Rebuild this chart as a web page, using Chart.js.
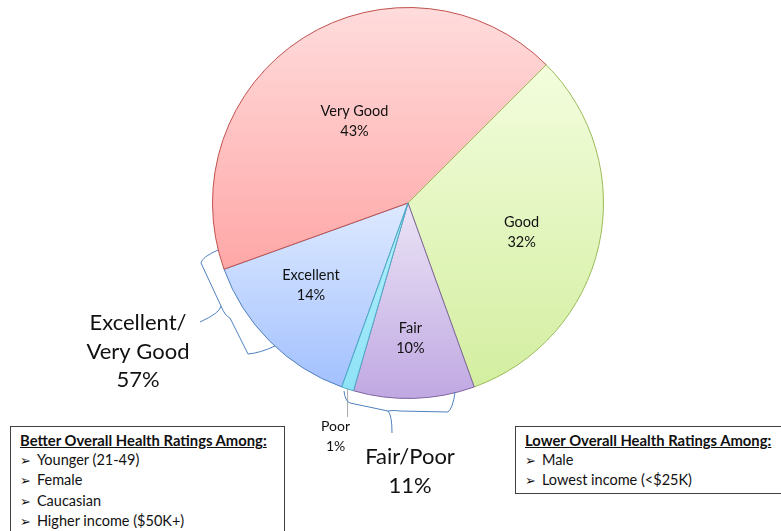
<!DOCTYPE html>
<html>
<head>
<meta charset="utf-8">
<script src="https://cdn.jsdelivr.net/npm/chart.js@4.4.1/dist/chart.umd.min.js"></script>
<style>
  html, body { margin: 0; padding: 0; background: #fff; overflow: hidden; }
  #wrap { position: relative; width: 781px; height: 531px; }
  canvas { position: absolute; left: 0; top: 0; }
  .box {
    position: absolute; border: 1px solid #404040; background: #fff;
    font-family: "Lato", "Open Sans", sans-serif; font-size: 14.5px; color: #111;
    padding: 4px 0 0 9px; box-sizing: border-box; line-height: 19.2px;
  }
  .box b { text-decoration: underline; display: block; font-size: 14.8px; }
  .arr { font-family: "DejaVu Sans", sans-serif; font-size: 13px; margin-right: 6px; }
</style>
</head>
<body>
<div id="wrap">
  <canvas id="healthPie" width="781" height="531"></canvas>
  <div class="box" style="left:10px; top:426px; width:275px; height:120px;">
    <b>Better Overall Health Ratings Among:</b>
    <div><span class="arr">&#10146;</span>Younger (21-49)</div>
    <div><span class="arr">&#10146;</span>Female</div>
    <div><span class="arr">&#10146;</span>Caucasian</div>
    <div><span class="arr">&#10146;</span>Higher income ($50K+)</div>
  </div>
  <div class="box" style="left:515px; top:426px; width:280px; height:68px;">
    <b>Lower Overall Health Ratings Among:</b>
    <div><span class="arr">&#10146;</span>Male</div>
    <div><span class="arr">&#10146;</span>Lowest income (&lt;$25K)</div>
  </div>
</div>
<script>
const categories = ["Excellent", "Very Good", "Good", "Fair", "Poor"];
const shares = [14, 43, 32, 10, 1];

// gradient colours per slice: [top, bottom], plus border
const fillTop = ["#dde9ff", "#ffdcdc", "#f3fddd", "#ebe4f6", "#b4f0fc"];
const fillBottom = ["#a3c1ff", "#ffa7a7", "#d3eea0", "#c0a8e2", "#8fe2f6"];
const borders = ["#4f81bd", "#c0504d", "#9bbb59", "#8064a2", "#4bacc6"];
const labelDist = [0.65, 0.5, 0.6, 0.69, 0];
const labelTurn = [4.8, -0.8, 1.8, 0.8, 0];
const ROT = 199.8;

function sliceFill(context) {
  const chart = context.chart;
  const area = chart.chartArea;
  if (!area) return fillTop[context.dataIndex];
  const cx = (area.left + area.right) / 2, cy = (area.top + area.bottom) / 2;
  const r = Math.min(area.right - area.left, area.bottom - area.top) / 2;
  const total = shares.reduce((a, b) => a + b, 0);
  let a0 = (ROT - 90) * Math.PI / 180;
  for (let i = 0; i < context.dataIndex; i++) a0 += shares[i] / total * 2 * Math.PI;
  const a1 = a0 + shares[context.dataIndex] / total * 2 * Math.PI;
  let ys = [cy, cy + r * Math.sin(a0), cy + r * Math.sin(a1)];
  for (let k = -2; k <= 4; k++) {
    const q = Math.PI / 2 + k * Math.PI;
    if (q > a0 && q < a1) ys.push(cy + r * Math.sin(q));
  }
  const g = chart.ctx.createLinearGradient(0, Math.min(...ys), 0, Math.max(...ys));
  g.addColorStop(0, fillTop[context.dataIndex]);
  g.addColorStop(1, fillBottom[context.dataIndex]);
  return g;
}

const annotate = {
  id: "annotate",
  afterDatasetsDraw(chart) {
    const ctx = chart.ctx;
    const arcs = chart.getDatasetMeta(0).data;
    ctx.save();
    ctx.textAlign = "center";
    ctx.textBaseline = "middle";
    ctx.fillStyle = "#111";
    ctx.font = "14.5px Lato, 'Open Sans', sans-serif";
    let cx = 0, cy = 0, R = 0;
    arcs.forEach((arc, i) => {
      const p = arc.getProps(["x", "y", "startAngle", "endAngle", "outerRadius"], true);
      cx = p.x; cy = p.y; R = p.outerRadius;
      const mid = (p.startAngle + p.endAngle) / 2 + labelTurn[i] * Math.PI / 180;
      if (labelDist[i] > 0) {
        const lx = p.x + Math.cos(mid) * R * labelDist[i];
        const ly = p.y + Math.sin(mid) * R * labelDist[i];
        ctx.fillText(categories[i], lx, ly - 10);
        ctx.fillText(shares[i] + "%", lx, ly + 10);
      } else {
        const ex = p.x + Math.cos(mid) * R, ey = p.y + Math.sin(mid) * R;
        ctx.strokeStyle = "#a6a6a6";
        ctx.lineWidth = 1;
        ctx.beginPath();
        ctx.moveTo(ex, ey);
        ctx.lineTo(ex, ey + 28);
        ctx.stroke();
        ctx.font = "14px Lato, 'Open Sans', sans-serif";
        ctx.fillText(categories[i], ex - 12, ey + 38);
        ctx.fillText(shares[i] + "%", ex - 12, ey + 58);
      }
    });

    // braces
    ctx.strokeStyle = "#4f81bd";
    ctx.lineWidth = 1;
    ctx.beginPath();
    ctx.moveTo(cx - 190, cy + 47);
    ctx.quadraticCurveTo(cx - 206, cy + 54, cx - 207, cy + 60);
    ctx.lineTo(cx - 187, cy + 103);
    ctx.quadraticCurveTo(cx - 188, cy + 110, cx - 208, cy + 119);
    ctx.moveTo(cx - 187, cy + 103);
    ctx.quadraticCurveTo(cx - 183, cy + 113, cx - 178, cy + 115);
    ctx.lineTo(cx - 160, cy + 151);
    ctx.quadraticCurveTo(cx - 148, cy + 150, cx - 133, cy + 143);
    ctx.stroke();

    ctx.beginPath();
    ctx.moveTo(cx - 64, cy + 188);
    ctx.quadraticCurveTo(cx - 63, cy + 198, cx - 58, cy + 200);
    ctx.lineTo(cx - 20, cy + 208);
    ctx.quadraticCurveTo(cx - 16, cy + 212, cx - 16, cy + 230);
    ctx.moveTo(cx - 20, cy + 208);
    ctx.quadraticCurveTo(cx - 14, cy + 207, cx - 8, cy + 208);
    ctx.lineTo(cx + 40, cy + 209);
    ctx.quadraticCurveTo(cx + 45, cy + 205, cx + 47, cy + 189);
    ctx.stroke();

    // group totals
    const top2 = shares[0] + shares[1];
    const low2 = shares[3] + shares[4];
    ctx.font = "22px Lato, 'Open Sans', sans-serif";
    ctx.fillText("Excellent/", cx - 270, cy + 120);
    ctx.fillText("Very Good", cx - 270, cy + 149);
    ctx.fillText(top2 + "%", cx - 270, cy + 177);
    ctx.fillText("Fair/Poor", cx + 2, cy + 254);
    ctx.fillText(low2 + "%", cx + 2, cy + 283);
    ctx.restore();
  }
};

new Chart(document.getElementById("healthPie").getContext("2d"), {
  type: "pie",
  data: {
    labels: categories,
    datasets: [{
      data: shares,
      backgroundColor: sliceFill,
      borderColor: borders,
      borderWidth: 1,
    }],
  },
  options: {
    responsive: false,
    animation: false,
    rotation: ROT,
    layout: { padding: { top: 7, bottom: 132, left: 212, right: 177 } },
    plugins: { legend: { display: false }, tooltip: { enabled: false } },
  },
  plugins: [annotate],
});
</script>
</body>
</html>
